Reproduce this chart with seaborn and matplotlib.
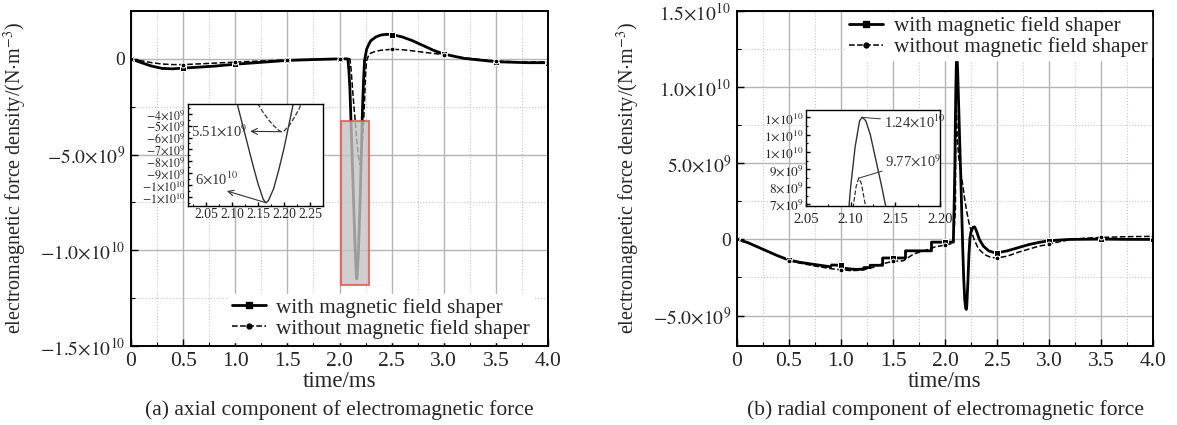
import numpy as np
import pandas as pd
import seaborn as sns
import matplotlib.pyplot as plt
from matplotlib.lines import Line2D
from matplotlib.patches import Rectangle
from matplotlib.ticker import MultipleLocator

sns.set_style("whitegrid")
plt.rcParams['font.family'] = ['Liberation Serif', 'DejaVu Serif']
plt.rcParams['mathtext.fontset'] = 'stix'

# ---------------- data (values in units of 1e9 N/m^3) ----------------
# (a) axial component
ax_with_t = [0, 0.1, 0.2, 0.3, 0.4, 0.5, 0.6, 0.8, 1.0, 1.2, 1.5, 1.8, 2.0, 2.08, 2.09, 2.10,
             2.11, 2.12, 2.13, 2.14, 2.15, 2.16, 2.165, 2.17, 2.18, 2.19, 2.20, 2.21, 2.22,
             2.23, 2.24, 2.26, 2.28, 2.30, 2.35, 2.40, 2.45, 2.50, 2.6, 2.7, 2.8, 2.9, 3.0,
             3.2, 3.5, 3.8, 4.0]
ax_with_v = [0, -0.2, -0.38, -0.5, -0.52, -0.48, -0.45, -0.38, -0.28, -0.2, -0.08, -0.03, 0.0,
             0.0, -0.6, -1.6, -3.2, -4.9, -6.6, -8.3, -9.9, -11.2, -11.5, -11.3, -10.3, -8.7,
             -6.9, -4.8, -2.7, -1.2, -0.1, 0.5, 0.75, 0.95, 1.15, 1.25, 1.28, 1.27, 1.15, 0.95,
             0.7, 0.45, 0.25, 0.02, -0.15, -0.2, -0.2]
ax_wo_t = [0, 0.1, 0.2, 0.3, 0.4, 0.5, 0.7, 1.0, 1.3, 1.5, 1.8, 2.0, 2.10, 2.11, 2.12, 2.13,
           2.14, 2.15, 2.16, 2.17, 2.18, 2.19, 2.195, 2.20, 2.21, 2.22, 2.23, 2.24, 2.25, 2.26,
           2.28, 2.30, 2.35, 2.40, 2.50, 2.6, 2.7, 2.8, 3.0, 3.2, 3.5, 3.8, 4.0]
ax_wo_v = [0, -0.1, -0.2, -0.27, -0.3, -0.3, -0.25, -0.17, -0.1, -0.05, -0.02, 0, 0, -0.5,
           -1.2, -1.9, -2.6, -3.2, -3.9, -4.5, -5.0, -5.4, -5.51, -5.45, -5.0, -4.3, -3.5,
           -2.2, -0.8, -0.1, 0.2, 0.3, 0.4, 0.45, 0.5, 0.48, 0.42, 0.35, 0.22, 0.05, -0.12,
           -0.17, -0.17]

# (b) radial component
rad_with_t = [0, 0.1, 0.2, 0.3, 0.4, 0.5, 0.6, 0.75, 0.9, 0.91, 1.0, 1.02, 1.1, 1.15, 1.22,
              1.22, 1.28, 1.28, 1.4, 1.4, 1.5, 1.62, 1.62, 1.87, 1.87, 2.0, 2.08, 2.09, 2.095,
              2.100, 2.105, 2.110, 2.113, 2.117, 2.122, 2.128, 2.134, 2.140, 2.15, 2.16, 2.17,
              2.18, 2.19, 2.20, 2.205, 2.21, 2.22, 2.23, 2.24, 2.25, 2.27, 2.285, 2.30, 2.33,
              2.37, 2.42, 2.47, 2.5, 2.6, 2.7, 2.8, 2.9, 3.0, 3.2, 3.5, 3.8, 4.0]
rad_with_v = [0, -0.2, -0.5, -0.8, -1.1, -1.35, -1.5, -1.65, -1.8, -1.68, -1.7, -1.88, -1.95,
              -1.97, -1.95, -1.85, -1.85, -1.7, -1.7, -1.22, -1.22, -1.22, -0.75, -0.75, -0.18,
              -0.18, -0.18, 3.0, 5.0, 8.0, 10.3, 11.8, 12.0, 11.8, 11.0, 9.6, 8.2, 6.7, 4.5,
              2.0, -0.5, -2.6, -4.0, -4.55, -4.6, -4.3, -2.8, -1.0, 0.1, 0.5, 0.8, 0.82, 0.6,
              0.0, -0.45, -0.75, -0.86, -0.88, -0.75, -0.55, -0.35, -0.2, -0.09, 0.0, 0.02,
              0.0, 0.0]
rad_wo_t = [0, 0.1, 0.2, 0.3, 0.4, 0.5, 0.6, 0.75, 0.9, 1.0, 1.1, 1.2, 1.3, 1.4, 1.5, 1.6, 1.7,
            1.8, 1.9, 2.0, 2.08, 2.10, 2.103, 2.106, 2.109, 2.112, 2.117, 2.13, 2.15, 2.17,
            2.19, 2.21, 2.23, 2.25, 2.28, 2.32, 2.38, 2.44, 2.5, 2.6, 2.7, 2.8, 2.9, 3.0, 3.1,
            3.2, 3.35, 3.5, 3.75, 4.0]
rad_wo_v = [0, -0.2, -0.5, -0.8, -1.1, -1.4, -1.55, -1.75, -1.92, -2.0, -2.05, -2.02, -1.85,
            -1.6, -1.44, -1.4, -0.95, -0.75, -0.5, -0.37, -0.25, 2.0, 6.9, 8.0, 8.5, 8.2, 6.8,
            5.5, 4.5, 3.6, 2.6, 1.8, 1.1, 0.6, 0.0, -0.6, -1.0, -1.18, -1.22, -1.1, -0.85,
            -0.65, -0.45, -0.31, -0.15, -0.02, 0.08, 0.13, 0.18, 0.2]

mark_t = [0, 0.5, 1.0, 1.5, 2.0, 2.5, 3.0, 3.5, 4.0]
x_ticks = [0, 0.5, 1.0, 1.5, 2.0, 2.5, 3.0, 3.5, 4.0]
x_labels = ['0', '0.5', '1.0', '1.5', '2.0', '2.5', '3.0', '3.5', '4.0']

a_yticks = [-1.5e10, -1.0e10, -5e9, 0]
a_ylabels = [r'$-1.5{\times}10^{10}$', r'$-1.0{\times}10^{10}$', r'$-5.0{\times}10^{9}$', '0']
b_yticks = [-5e9, 0, 5e9, 1.0e10, 1.5e10]
b_ylabels = [r'$-5.0{\times}10^{9}$', '0', r'$5.0{\times}10^{9}$', r'$1.0{\times}10^{10}$',
             r'$1.5{\times}10^{10}$']

ia_xticks = [2.05, 2.10, 2.15, 2.20, 2.25]
ia_yticks = [-4e9, -5e9, -6e9, -7e9, -8e9, -9e9, -1.0e10, -1.1e10]
ia_ylabels = [r'$-4{\times}10^{9}$', r'$-5{\times}10^{9}$', r'$-6{\times}10^{9}$',
              r'$-7{\times}10^{9}$', r'$-8{\times}10^{9}$', r'$-9{\times}10^{9}$',
              r'$-1{\times}10^{10}$', r'$-1{\times}10^{10}$']
ib_xticks = [2.05, 2.10, 2.15, 2.20]
ib_yticks = [7e9, 8e9, 9e9, 1.0e10, 1.1e10, 1.2e10]
ib_ylabels = [r'$7{\times}10^{9}$', r'$8{\times}10^{9}$', r'$9{\times}10^{9}$',
              r'$1{\times}10^{10}$', r'$1{\times}10^{10}$', r'$1{\times}10^{10}$']

leg_labels = ['with magnetic field shaper', 'without magnetic field shaper']

def frame(t, v):
    return pd.DataFrame({'t': t, 'v': np.array(v) * 1e9})

def style_axes(ax, lw=1.4, fs=14, major=5, minor=3):
    for s in ax.spines.values():
        s.set_color('black')
        s.set_linewidth(lw)
        s.set_visible(True)
    ax.tick_params(which='major', direction='in', length=major, width=1, color='black',
                   labelsize=fs, bottom=True, left=True, pad=4)
    ax.tick_params(which='minor', direction='in', length=minor, width=0.8, color='black',
                   bottom=True, left=True)

def draw_pair(ax, df_w, df_wo, lw_w=2.0, lw_wo=1.1, markers=True):
    kw_w = dict(color='black', lw=lw_w, estimator=None, sort=False, legend=False)
    kw_wo = dict(color='black', lw=lw_wo, ls='--', estimator=None, sort=False, legend=False)
    if markers:
        kw_w.update(marker='s', markersize=5, markevery=[list(df_w['t']).index(m) for m in mark_t])
        kw_wo.update(marker='o', markersize=3.5, markevery=[list(df_wo['t']).index(m) for m in mark_t])
    sns.lineplot(data=df_w, x='t', y='v', ax=ax, **kw_w)
    sns.lineplot(data=df_wo, x='t', y='v', ax=ax, **kw_wo)

fig = plt.figure(figsize=(11.77, 4.25), dpi=100)
axa = fig.add_axes([0.1113, 0.1859, 0.3543, 0.7882])
axb = fig.add_axes([0.6262, 0.1859, 0.3534, 0.7882])

handles = [Line2D([], [], color='black', lw=2.0, marker='s', markersize=5),
           Line2D([], [], color='black', lw=1.1, ls='--', marker='o', markersize=3.5)]

for ax, dw, dwo, yt, yl, ylim in [
        (axa, frame(ax_with_t, ax_with_v), frame(ax_wo_t, ax_wo_v), a_yticks, a_ylabels, (-1.5e10, 2.5e9)),
        (axb, frame(rad_with_t, rad_with_v), frame(rad_wo_t, rad_wo_v), b_yticks, b_ylabels, (-7e9, 1.5e10))]:
    draw_pair(ax, dw, dwo)
    ax.set_xlim(0, 4.0)
    ax.set_ylim(*ylim)
    ax.set_xticks(x_ticks, labels=x_labels)
    ax.set_yticks(yt, labels=yl)
    ax.xaxis.set_minor_locator(MultipleLocator(0.25))
    ax.yaxis.set_minor_locator(MultipleLocator(2.5e9))
    ax.grid(which='major', color='#b4b4b4', lw=1.0, ls='-')
    ax.grid(which='minor', color='#c8c8c8', lw=0.8, ls=':')
    ax.set_axisbelow(True)
    style_axes(ax)
    ax.tick_params(axis='x', which='major', labelsize=15.5)
    ax.set_xlabel('time/ms', fontsize=16.5, labelpad=0)
    ax.set_ylabel(r'electromagnetic force density/(N$\cdot$m$^{-3}$)', fontsize=14.5)

axa.yaxis.set_label_coords(-0.244, 0.5)
axb.yaxis.set_label_coords(-0.228, 0.5)

axa.legend(handles, leg_labels, loc='lower right', fontsize=15.3, frameon=True, framealpha=1,
           edgecolor='white', handlelength=1.6, handletextpad=0.5, labelspacing=0.05,
           borderpad=0.15, borderaxespad=0.2, bbox_to_anchor=(0.975, 0.0))
axb.legend(handles, leg_labels, loc='upper right', fontsize=15.3, frameon=True, framealpha=1,
           edgecolor='white', handlelength=1.6, handletextpad=0.5, labelspacing=0.05,
           borderpad=0.15, borderaxespad=0.1)

# highlighted region on (a)
axa.add_patch(Rectangle((2.01, -1.18e10), 0.27, 1.18e10 - 3.24e9, facecolor='#c4c4c4',
                        alpha=0.8, edgecolor='#e8534f', lw=1.5, zorder=5))

# inset (a)
ia = fig.add_axes([0.1597, 0.5153, 0.1147, 0.24])
draw_pair(ia, frame(ax_with_t, ax_with_v), frame(ax_wo_t, ax_wo_v), lw_w=1.0, lw_wo=0.9, markers=False)
for ln in ia.lines:
    ln.set_color('#333333')
ia.set_xlim(2.015, 2.275)
ia.set_ylim(-1.176e10, -3.18e9)
ia.set_xticks(ia_xticks, labels=['2.05', '2.10', '2.15', '2.20', '2.25'])
ia.set_yticks(ia_yticks, labels=ia_ylabels)
ia.xaxis.set_minor_locator(MultipleLocator(0.025))
ia.yaxis.set_minor_locator(MultipleLocator(5e8))
ia.grid(False)
ia.set_facecolor('white')
ia.set_xlabel('')
ia.set_ylabel('')
style_axes(ia, lw=1.0, fs=8.6, major=3, minor=1.5)
ia.tick_params(axis='x', labelsize=9.8)
ia.tick_params(pad=1.5)
ia.annotate(r'5.51${\times}$10$^{9}$', xy=(2.195, -5.51e9), xytext=(2.02, -5.45e9),
            fontsize=10.5, va='center', ha='left', color='#333333',
            arrowprops=dict(arrowstyle='<-', color='#333333', lw=0.8, shrinkA=0, shrinkB=0))
ia.text(2.071, -1.02e10, r'6${\times}$10$^{10}$', fontsize=10.5, va='bottom', ha='center',
        color='#333333')
ia.annotate('', xy=(2.09, -1.05e10), xytext=(2.165, -1.148e10),
            arrowprops=dict(arrowstyle='->', color='#333333', lw=0.8, shrinkA=0, shrinkB=0))

# inset (b)
ib = fig.add_axes([0.6848, 0.5153, 0.1138, 0.2259])
draw_pair(ib, frame(rad_with_t, rad_with_v), frame(rad_wo_t, rad_wo_v), lw_w=1.0, lw_wo=0.9, markers=False)
for ln in ib.lines:
    ln.set_color('#333333')
ib.set_xlim(2.05, 2.20)
ib.set_ylim(6.9e9, 1.242e10)
ib.set_xticks(ib_xticks, labels=['2.05', '2.10', '2.15', '2.20'])
ib.set_yticks(ib_yticks, labels=ib_ylabels)
ib.xaxis.set_minor_locator(MultipleLocator(0.025))
ib.yaxis.set_minor_locator(MultipleLocator(5e8))
ib.grid(False)
ib.set_facecolor('white')
ib.set_xlabel('')
ib.set_ylabel('')
style_axes(ib, lw=1.0, fs=9.5, major=3, minor=1.5)
ib.tick_params(axis='x', labelsize=10.5, pad=5)
ib.tick_params(axis='y', pad=1.5)
ib.annotate(r'1.24${\times}$10$^{10}$', xy=(2.112, 1.2e10), xytext=(2.137, 1.175e10),
            fontsize=10.5, va='center', ha='left', color='#333333',
            arrowprops=dict(arrowstyle='-', color='#333333', lw=0.7, shrinkA=0, shrinkB=0))
ib.annotate(r'9.77${\times}$10$^{9}$', xy=(2.109, 8.5e9), xytext=(2.139, 9.45e9),
            fontsize=10.5, va='center', ha='left', color='#333333',
            arrowprops=dict(arrowstyle='-', color='#333333', lw=0.7, shrinkA=0, shrinkB=0))

fig.text(0.2885, 0.035, '(a) axial component of electromagnetic force', ha='center', va='center', fontsize=15.5)
fig.text(0.803, 0.035, '(b) radial component of electromagnetic force', ha='center', va='center', fontsize=15.5)

fig.savefig('out.png', dpi=100)
